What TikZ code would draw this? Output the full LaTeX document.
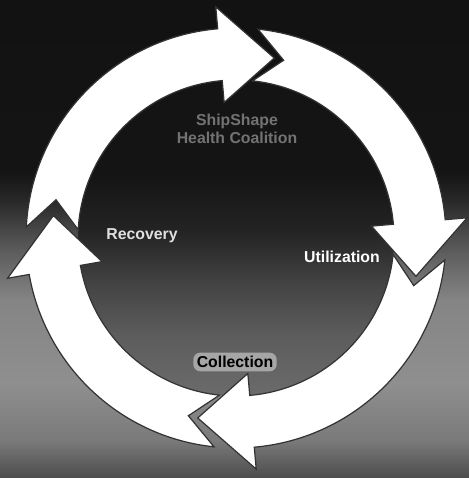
\documentclass[tikz,border=0pt]{standalone}
\usepackage{fontspec}
\setmainfont{Liberation Sans}
\usepackage{tikz}
\usetikzlibrary{positioning}
% dark top, grey lower band (positions 25bp..75bp = bottom..top of the path)
\pgfdeclareverticalshading{bgshade}{100bp}{%
  color(0bp)=(black!70); color(25bp)=(black!70); color(29bp)=(black!52);
  color(35bp)=(black!44); color(43.6bp)=(black!48); color(48.8bp)=(black!64);
  color(54bp)=(black!84); color(57bp)=(black!92); color(75bp)=(black!93);
  color(100bp)=(black!93)}
\pgfdeclareverticalshading{innershade}{100bp}{%
  color(0bp)=(black!58); color(25bp)=(black!58); color(35bp)=(black!64);
  color(43bp)=(black!74); color(51bp)=(black!86); color(60bp)=(black!92);
  color(75bp)=(black!92); color(100bp)=(black!92)}
\tikzset{
  cycarrow/.style = {fill=white, draw=black!80, line width=0.7pt, line join=miter},
  steplbl/.style  = {font=\bfseries\fontsize{9}{10}\selectfont, inner sep=1pt, align=center},
}
% #1 tip angle, #2 tip angle of the arrow before it
\newcommand{\cycarrow}[2]{%
  \pgfmathsetmacro\cahead{#1+17}%
  \pgfmathsetmacro\catail{#2+6}%
  \pgfmathsetmacro\canotch{#2-3}%
  \draw[cycarrow] (\catail:210) arc[start angle=\catail, end angle=\cahead, radius=210]
    -- (\cahead:232) -- (#1:184) -- (\cahead:136) -- (\cahead:158)
    arc[start angle=\cahead, end angle=\catail, radius=158] -- (\canotch:184) -- cycle;%
}

\begin{document}
\begin{tikzpicture}[x=0.02cm,y=0.02cm]
  \useasboundingbox (0,0) rectangle (469,478);
  \shade[shading=bgshade] (0,0) rectangle (469,478);

  \begin{scope}[shift={(236,240)}]
    \shade[shading=innershade] (0,0) circle[radius=158];
    % the four arrows, clockwise
    \cycarrow{78}{171}
    \cycarrow{-12}{78}
    \cycarrow{-102}{-12}
    \cycarrow{-187}{-102}
  \end{scope}

  % labels
  \node[steplbl, text=black!55] (title) at (237,349) {ShipShape\\Health Coalition};
  \node[steplbl, text=black!12] (recovery) at (142,242) {Recovery};
  \node[steplbl, text=white] (utilization) at (342,221) {Utilization};
  \node[steplbl, text=black, fill=black!35, rounded corners=4pt, inner sep=2pt] (collection) at (235,116) {Collection};
\end{tikzpicture}
\end{document}
